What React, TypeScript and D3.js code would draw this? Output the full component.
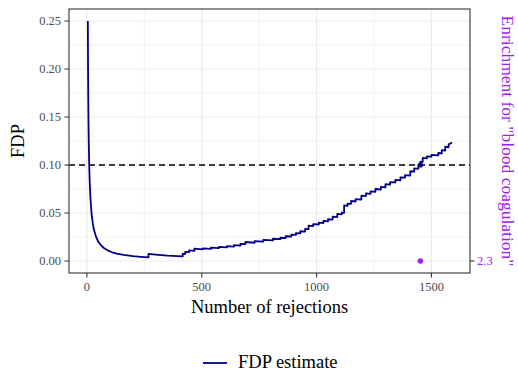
import React from "react";
import * as d3 from "d3";

// ---- data ----
const fdpN: number[] = [
  4, 5, 6, 7, 8, 10, 12, 15, 20, 25, 30, 40, 50, 60, 75, 90, 110, 130, 160, 200, 235, 268,
  268, 300, 350, 417,
  417, 428, 428, 445, 445, 468, 468, 505, 505, 540, 540, 575, 575, 610, 610, 640, 640, 668, 668,
  690, 690, 730, 730, 768, 768, 810, 810, 842, 842, 865, 865, 890, 890, 910, 910, 929, 929,
  950, 950, 965, 965, 985, 985, 1010, 1010, 1030, 1030, 1050, 1050, 1070, 1070, 1090, 1090,
  1110, 1110, 1120, 1120, 1135, 1135, 1150, 1150, 1170, 1170, 1195, 1195, 1215, 1215, 1235, 1235,
  1256, 1256, 1280, 1280, 1300, 1300, 1320, 1320, 1343, 1343, 1365, 1365, 1385, 1385, 1408, 1408,
  1425, 1425, 1443, 1443, 1452, 1452, 1462, 1462, 1480, 1480, 1500, 1500, 1530, 1530, 1545, 1545,
  1560, 1560, 1575, 1575, 1590,
];
const fdpValue: number[] = [
  0.25, 0.2, 0.167, 0.143, 0.125, 0.1, 0.083, 0.067, 0.05, 0.04, 0.033, 0.025, 0.02, 0.0167, 0.0133,
  0.0111, 0.0091, 0.0077, 0.0063, 0.005, 0.0043, 0.0037,
  0.0075, 0.0067, 0.0057, 0.0048,
  0.0075, 0.0073, 0.0095, 0.0092, 0.011, 0.0105, 0.0128, 0.0122, 0.0132, 0.0126, 0.014, 0.0135,
  0.0148, 0.0142, 0.0155, 0.015, 0.0165, 0.016, 0.0178,
  0.0175, 0.0198, 0.019, 0.0208, 0.0202, 0.022, 0.0215, 0.0232, 0.0228, 0.0242, 0.0238, 0.0258,
  0.0255, 0.0275, 0.0272, 0.029, 0.0288, 0.031,
  0.0307, 0.0335, 0.0332, 0.0368, 0.0363, 0.0385, 0.038, 0.04, 0.0396, 0.0418, 0.0413, 0.0435,
  0.043, 0.0462, 0.0458, 0.049,
  0.0485, 0.0505, 0.0502, 0.058, 0.0575, 0.0598, 0.0595, 0.0625, 0.062, 0.0645, 0.064, 0.068,
  0.0675, 0.0705, 0.07, 0.0725,
  0.072, 0.075, 0.0745, 0.0772, 0.0768, 0.08, 0.0795, 0.0822, 0.0818, 0.0845, 0.084, 0.0872,
  0.0868, 0.0895, 0.089, 0.0935,
  0.093, 0.0965, 0.096, 0.0995, 0.099, 0.1035, 0.103, 0.1075, 0.107, 0.109, 0.1087, 0.1105,
  0.11, 0.1125, 0.112, 0.1155,
  0.115, 0.119, 0.1185, 0.1215, 0.1235,
];
const cutoffN = 1452;
const cutoffFdp = 0.1;
const targetFdp = 0.1;
const enrichmentN: number[] = [1452];
const enrichmentValue: number[] = [2.3];
const enrichmentTickLabels: string[] = ["2.3"];
const xTicks: number[] = [0, 500, 1000, 1500];
const xMinor: number[] = [250, 750, 1250];
const yTicks: number[] = [0, 0.05, 0.1, 0.15, 0.2, 0.25];
const yMinor: number[] = [0.025, 0.075, 0.125, 0.175, 0.225];

const W = 518;
const H = 370;
const panel = { left: 69, right: 470, top: 9, bottom: 273 };
const FONT = "'Liberation Serif', 'DejaVu Serif', serif";
const PURPLE = "#A020F0";
const NAVY = "#00008B";

export default function App() {
  const x = d3.scaleLinear().domain([-78, 1668]).range([panel.left, panel.right]);
  const y = d3.scaleLinear().domain([-0.0125, 0.2625]).range([panel.bottom, panel.top]);
  // secondary axis: enrichment value maps onto the FDP=0 line
  const y2 = d3.scaleLinear().domain([2.3 - 0.0125 * 10, 2.3 + 0.2625 * 10]).range([panel.bottom, panel.top]);

  const pts: [number, number][] = fdpN.map((n, i) => [n, fdpValue[i]]);
  const line = d3
    .line<[number, number]>()
    .x((d) => x(d[0]))
    .y((d) => y(d[1]));

  const tickColor = "#4D4D4D";
  const axisColor = "#333333";

  return (
    <svg width={W} height={H} style={{ position: "absolute", left: 0, top: 0, background: "#fff" }}>
      <rect x={0} y={0} width={W} height={H} fill="#fff" />
      {/* grid */}
      <g>
        {yMinor.map((v) => (
          <line key={"ym" + v} x1={panel.left} x2={panel.right} y1={y(v)} y2={y(v)} stroke="#EBEBEB" strokeWidth={0.6} />
        ))}
        {xMinor.map((v) => (
          <line key={"xm" + v} x1={x(v)} x2={x(v)} y1={panel.top} y2={panel.bottom} stroke="#EBEBEB" strokeWidth={0.6} />
        ))}
        {yTicks.map((v) => (
          <line key={"yM" + v} x1={panel.left} x2={panel.right} y1={y(v)} y2={y(v)} stroke="#EBEBEB" strokeWidth={1.2} />
        ))}
        {xTicks.map((v) => (
          <line key={"xM" + v} x1={x(v)} x2={x(v)} y1={panel.top} y2={panel.bottom} stroke="#EBEBEB" strokeWidth={1.2} />
        ))}
      </g>
      {/* threshold */}
      <line
        x1={panel.left}
        x2={panel.right}
        y1={y(targetFdp)}
        y2={y(targetFdp)}
        stroke="#000"
        strokeWidth={1.3}
        strokeDasharray="6,4"
      />
      {/* FDP line */}
      <path d={line(pts) || ""} fill="none" stroke={NAVY} strokeWidth={1.8} strokeLinejoin="round" />
      <circle cx={x(cutoffN)} cy={y(cutoffFdp)} r={2.6} fill={NAVY} />
      {/* enrichment points */}
      {enrichmentN.map((n, i) => (
        <circle key={"e" + i} cx={x(n)} cy={y2(enrichmentValue[i])} r={2.8} fill={PURPLE} />
      ))}
      {/* panel border */}
      <rect
        x={panel.left}
        y={panel.top}
        width={panel.right - panel.left}
        height={panel.bottom - panel.top}
        fill="none"
        stroke={axisColor}
        strokeWidth={1.1}
      />
      {/* y axis */}
      {yTicks.map((v) => (
        <g key={"yt" + v}>
          <line x1={panel.left - 4.5} x2={panel.left} y1={y(v)} y2={y(v)} stroke={axisColor} strokeWidth={1.1} />
          <text
            x={panel.left - 8}
            y={y(v)}
            textAnchor="end"
            dominantBaseline="central"
            fontFamily={FONT}
            fontSize={12.5}
            fill={tickColor}
          >
            {d3.format(".2f")(v)}
          </text>
        </g>
      ))}
      {/* x axis */}
      {xTicks.map((v) => (
        <g key={"xt" + v}>
          <line x1={x(v)} x2={x(v)} y1={panel.bottom} y2={panel.bottom + 4.5} stroke={axisColor} strokeWidth={1.1} />
          <text x={x(v)} y={panel.bottom + 18} textAnchor="middle" fontFamily={FONT} fontSize={12.5} fill={tickColor}>
            {String(v)}
          </text>
        </g>
      ))}
      {/* secondary axis */}
      {enrichmentTickLabels.map((lab, i) => (
        <g key={"y2" + i}>
          <line
            x1={panel.right}
            x2={panel.right + 4.5}
            y1={y2(+lab)}
            y2={y2(+lab)}
            stroke={axisColor}
            strokeWidth={1.1}
          />
          <text
            x={panel.right + 7}
            y={y2(+lab)}
            dominantBaseline="central"
            fontFamily={FONT}
            fontSize={12.5}
            fill={PURPLE}
          >
            {lab}
          </text>
        </g>
      ))}
      {/* titles */}
      <text
        x={(panel.left + panel.right) / 2}
        y={313}
        textAnchor="middle"
        fontFamily={FONT}
        fontSize={18.5}
        fill="#000"
      >
        Number of rejections
      </text>
      <text
        transform={`translate(24, ${(panel.top + panel.bottom) / 2}) rotate(-90)`}
        textAnchor="middle"
        fontFamily={FONT}
        fontSize={18.5}
        fill="#000"
      >
        FDP
      </text>
      <text
        transform={`translate(502, ${(panel.top + panel.bottom) / 2}) rotate(90)`}
        textAnchor="middle"
        fontFamily={FONT}
        fontSize={17.5}
        fill={PURPLE}
      >
        Enrichment for "blood coagulation"
      </text>
      {/* legend */}
      <line x1={203} x2={227} y1={363} y2={363} stroke={NAVY} strokeWidth={1.8} />
      <text x={238} y={367.5} fontFamily={FONT} fontSize={18.5} fill="#000">
        FDP estimate
      </text>
    </svg>
  );
}
